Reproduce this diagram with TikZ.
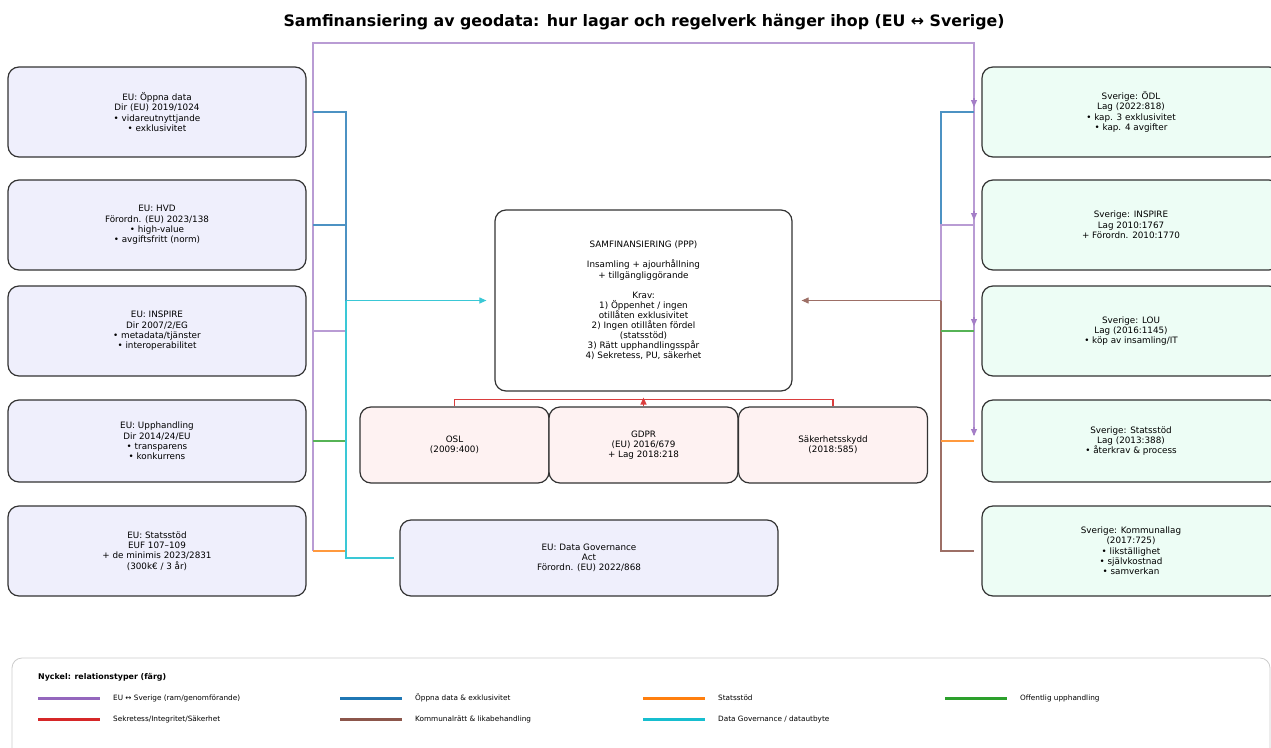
\documentclass[tikz,border=0pt]{standalone}
\usepackage{fontspec}
\setmainfont{DejaVu Sans}
\usetikzlibrary{calc,arrows.meta}
\definecolor{tpur}{HTML}{9467BD}
\definecolor{tblue}{HTML}{1F77B4}
\definecolor{torange}{HTML}{FF7F0E}
\definecolor{tgreen}{HTML}{2CA02C}
\definecolor{tred}{HTML}{D62728}
\definecolor{tbrown}{HTML}{8C564B}
\definecolor{tcyan}{HTML}{17BECF}
\definecolor{eufill}{HTML}{EFEFFC}
\definecolor{sefill}{HTML}{EDFDF5}
\definecolor{pkfill}{HTML}{FEF2F2}
\definecolor{bordc}{HTML}{333333}
\tikzset{
  box/.style={draw=bordc, line width=1.2pt, rounded corners=11pt, align=center,
    font=\fontsize{8.8}{10.3}\selectfont, inner sep=0pt},
  eubox/.style={box, fill=eufill, minimum width=298pt},
  sebox/.style={box, fill=sefill, minimum width=298pt},
  pkbox/.style={box, fill=pkfill, minimum width=189pt, minimum height=76pt},
  conn/.style={line width=1.1pt},
  lpur/.style={conn, draw=tpur!65!white},
  lblue/.style={conn, draw=tblue!80!white},
  lorange/.style={conn, draw=torange!80!white},
  lgreen/.style={conn, draw=tgreen!80!white},
  lred/.style={conn, line width=1.4pt, draw=tred!90!white},
  lbrown/.style={conn, draw=tbrown!85!white},
  lcyan/.style={conn, draw=tcyan!85!white},
  tip/.style={-{Triangle[length=7pt,width=6pt]}},
  legline/.style={line width=3pt},
  legtext/.style={anchor=west, font=\fontsize{7.3}{8.5}\selectfont, inner sep=0pt},
}
\begin{document}
\begin{tikzpicture}[x=1pt,y=-1pt]
\useasboundingbox (0,0) rectangle (1271,747);
\fill[white] (0,0) rectangle (1271,747);

\node[font=\bfseries\fontsize{15.8}{18}\selectfont] (title) at (644,22) {Samfinansiering av geodata: hur lagar och regelverk hänger ihop (EU ↔ Sverige)};

% EU boxes
\node[eubox, minimum height=90pt] (eu1) at (157,112) {EU: Öppna data\\Dir (EU) 2019/1024\\• vidareutnyttjande\\• exklusivitet};
\node[eubox, minimum height=90pt] (eu2) at (157,225) {EU: HVD\\Förordn. (EU) 2023/138\\• high-value\\• avgiftsfritt (norm)};
\node[eubox, minimum height=90pt] (eu3) at (157,331) {EU: INSPIRE\\Dir 2007/2/EG\\• metadata/tjänster\\• interoperabilitet};
\node[eubox, minimum height=82pt] (eu4) at (157,441) {EU: Upphandling\\Dir 2014/24/EU\\• transparens\\• konkurrens};
\node[eubox, minimum height=90pt] (eu5) at (157,551) {EU: Statsstöd\\EUF 107–109\\+ de minimis 2023/2831\\(300k€ / 3 år)};

% Sverige boxes
\node[sebox, minimum height=90pt] (se1) at (1131,112) {Sverige: ÖDL\\Lag (2022:818)\\• kap. 3 exklusivitet\\• kap. 4 avgifter};
\node[sebox, minimum height=90pt] (se2) at (1131,225) {Sverige: INSPIRE\\Lag 2010:1767\\+ Förordn. 2010:1770};
\node[sebox, minimum height=90pt] (se3) at (1131,331) {Sverige: LOU\\Lag (2016:1145)\\• köp av insamling/IT};
\node[sebox, minimum height=82pt] (se4) at (1131,441) {Sverige: Statsstöd\\Lag (2013:388)\\• återkrav \& process};
\node[sebox, minimum height=90pt] (se5) at (1131,551) {Sverige: Kommunallag\\(2017:725)\\• likställighet\\• självkostnad\\• samverkan};

% Center
\node[box, fill=white, minimum width=297pt, minimum height=181pt, font=\fontsize{8.8}{10.1}\selectfont] (samf) at (643.5,300.5) {SAMFINANSIERING (PPP)\\[10.1pt]Insamling + ajourhållning\\+ tillgängliggörande\\[10.1pt]Krav:\\1) Öppenhet / ingen\\otillåten exklusivitet\\2) Ingen otillåten fördel\\(statsstöd)\\3) Rätt upphandlingsspår\\4) Sekretess, PU, säkerhet};

\node[pkbox] (osl) at (454.5,445) {OSL\\(2009:400)};
\node[pkbox] (gdpr) at (643.5,445) {GDPR\\(EU) 2016/679\\+ Lag 2018:218};
\node[pkbox] (sak) at (833,445) {Säkerhetsskydd\\(2018:585)};

\node[eubox, minimum width=378pt, minimum height=76pt] (dga) at (589,558) {EU: Data Governance\\Act\\Förordn. (EU) 2022/868};

% junction coordinates
\coordinate (jl) at (313,0);
\coordinate (jm) at (346,0);
\coordinate (jr) at (941,0);
\coordinate (ja) at (974,0);
\coordinate (top) at (0,43);

% purple EU -> Sverige
\draw[lpur] (eu5.east -| jl) -- (jl |- top) -- (ja |- top) -- ($(se4.west -| ja)+(0,-6)$);
\draw[lpur] (eu3.east -| jl) -- (eu3.east -| jm);
\foreach \s in {se1,se2,se3,se4}
  \draw[conn, draw=tpur!85!white, fill=tpur!85!white, tip] ($(\s.west -| ja)+(0,-14)$) -- ($(\s.west -| ja)+(0,-5)$);

% left side
\draw[lblue] (eu1.east -| jl) -- (eu1.east -| jm) -- (jm |- samf.west);
\draw[lblue] (eu2.east -| jl) -- (eu2.east -| jm);
\draw[lgreen] (eu4.east -| jl) -- (eu4.east -| jm);
\draw[lorange] (eu5.east -| jl) -- (eu5.east -| jm);
\draw[lcyan] (jm |- samf.west) -- (jm |- dga.west) -- ($(dga.west)+(-5,0)$);
\draw[lcyan, fill=tcyan!85!white, tip] (jm |- samf.west) -- ($(samf.west)+(-8,0)$);

% right side
\draw[lblue] (se1.west -| ja) -- (se1.west -| jr) -- (se2.west -| jr);
\draw[lpur] (se2.west -| ja) -- (se2.west -| jr) -- (jr |- samf.east);
\draw[lbrown] (jr |- samf.east) -- (jr |- se5.west) -- (se5.west -| ja);
\draw[lbrown, fill=tbrown!85!white, tip] (jr |- samf.east) -- ($(samf.east)+(9,0)$);
\draw[lgreen] (se3.west -| ja) -- (se3.west -| jr);
\draw[lorange] (se4.west -| ja) -- (se4.west -| jr);

% red
\draw[lred] (osl.north) -- ++(0,-7) -| (sak.north);
\draw[lred, fill=tred!90!white, tip] (gdpr.north) -- ($(samf.south)+(0,6)$);

% legend
\draw[draw=black!20, line width=0.8pt, rounded corners=10pt] (12,760) -- (12,658) -- (1270,658) -- (1270,760);
\node[anchor=west, inner sep=0pt, font=\bfseries\fontsize{7.9}{9.5}\selectfont] (legt) at (38,677) {Nyckel: relationstyper (färg)};
\coordinate (k1) at (38,698);
\coordinate (k2) at (340,698);
\coordinate (k3) at (643,698);
\coordinate (k4) at (945,698);
\coordinate (k5) at (38,719);
\coordinate (k6) at (340,719);
\coordinate (k7) at (643,719);
\draw[legline, tpur] (k1) -- ++(62,0);
\node[legtext] (kt1) at ($(k1)+(75,0)$) {EU ↔ Sverige (ram/genomförande)};
\draw[legline, tblue] (k2) -- ++(62,0);
\node[legtext] (kt2) at ($(k2)+(75,0)$) {Öppna data \& exklusivitet};
\draw[legline, torange] (k3) -- ++(62,0);
\node[legtext] (kt3) at ($(k3)+(75,0)$) {Statsstöd};
\draw[legline, tgreen] (k4) -- ++(62,0);
\node[legtext] (kt4) at ($(k4)+(75,0)$) {Offentlig upphandling};
\draw[legline, tred] (k5) -- ++(62,0);
\node[legtext] (kt5) at ($(k5)+(75,0)$) {Sekretess/Integritet/Säkerhet};
\draw[legline, tbrown] (k6) -- ++(62,0);
\node[legtext] (kt6) at ($(k6)+(75,0)$) {Kommunalrätt \& likabehandling};
\draw[legline, tcyan] (k7) -- ++(62,0);
\node[legtext] (kt7) at ($(k7)+(75,0)$) {Data Governance / datautbyte};
\end{tikzpicture}
\end{document}
